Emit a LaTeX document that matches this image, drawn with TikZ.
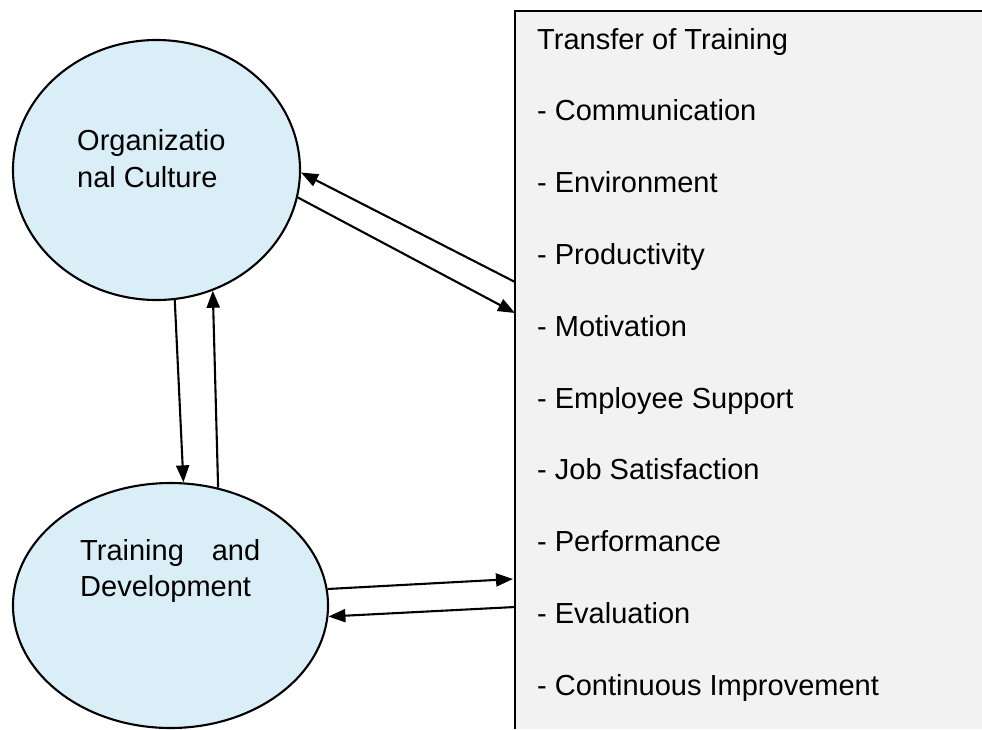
\documentclass[tikz,border=0pt]{standalone}
\usepackage{fontspec}
\setmainfont{Liberation Sans}
\usetikzlibrary{shapes.geometric,arrows.meta,calc}
\definecolor{bubblefill}{HTML}{DAEEF8}
\definecolor{panelfill}{HTML}{F2F2F2}
\begin{document}
\begin{tikzpicture}[x=1pt,y=-1pt,
  bubble/.style={ellipse,draw,line width=2.1pt,fill=bubblefill,inner sep=0},
  item/.style={anchor=base west,inner sep=0,font=\fontsize{29}{35}\selectfont},
  link/.style={line width=2.1pt,-{Triangle[length=17pt,width=13pt]}}]
\useasboundingbox (0,0) rectangle (982,729);
\node[bubble,minimum width=287pt,minimum height=260pt] (oc) at (156.5,170) {};
\node[bubble,minimum width=315pt,minimum height=245pt] (td) at (170.5,605.5) {};
\node[fill=panelfill,minimum width=467pt,minimum height=718pt,anchor=north west,inner sep=0] (box) at (515,11) {};
\draw[line width=2.1pt] (box.south west) -- (box.north west) -- (box.north east);
\node[item] (oc1) at (77,150) {Organizatio};
\node[item] (oc2) at (77,187) {nal Culture};
\node[item] (td1) at (80,560) {\makebox[180pt][s]{Training and}};
\node[item] (td2) at (80,596) {Development};
\foreach \t [count=\i from 0] in {Transfer of Training,- Communication,- Environment,- Productivity,- Motivation,- Employee Support,- Job Satisfaction,- Performance,- Evaluation,- Continuous Improvement}
  \node[item] (t\i) at (537,49+71.8*\i) {\t};
\draw[link] ($(box.north west)+(0,271)$) -- (oc.-1);
\draw[link] (oc.-11) -- ($(box.north west)+(0,302)$);
\draw[link] (oc.-82) -- (td.84);
\draw[link] (td.68) -- (oc.-65.5);
\draw[link] (td.6) -- ($(box.north west)+(-2,568)$);
\draw[link] ($(box.north west)+(0,596)$) -- (td.-4);
\end{tikzpicture}
\end{document}
